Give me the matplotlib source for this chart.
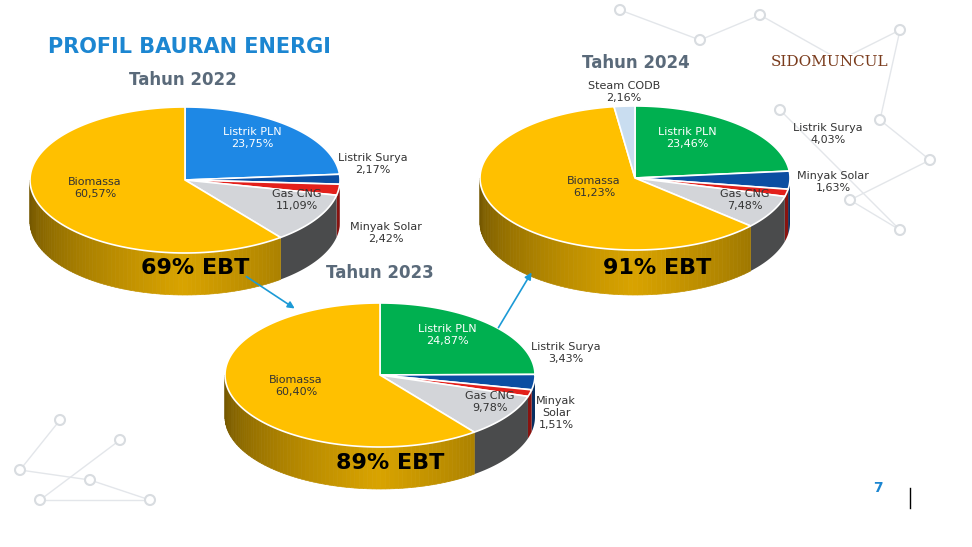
import numpy as np
import matplotlib.pyplot as plt
from matplotlib.patches import Polygon
from matplotlib.colors import to_rgb

# data
labels_2022 = ['Listrik PLN', 'Listrik Surya', 'Minyak Solar', 'Gas CNG', 'Biomassa']
values_2022 = [23.75, 2.17, 2.42, 11.09, 60.57]
labels_2023 = ['Listrik PLN', 'Listrik Surya', 'Minyak Solar', 'Gas CNG', 'Biomassa']
values_2023 = [24.87, 3.43, 1.51, 9.78, 60.40]
labels_2024 = ['Listrik PLN', 'Listrik Surya', 'Minyak Solar', 'Gas CNG', 'Biomassa', 'Steam CODB']
values_2024 = [23.46, 4.03, 1.63, 7.48, 61.23, 2.16]
ebt = ['69% EBT', '89% EBT', '91% EBT']

colors = {'Listrik Surya': '#0B4EA2', 'Minyak Solar': '#E3201B',
          'Gas CNG': '#D3D5D9', 'Biomassa': '#FFC000', 'Steam CODB': '#C9DDF0'}


def darker(c, f):
    return tuple(v * f for v in to_rgb(c))


def pie3d(ax, cx, cy, rx, ry, d, labels, values, pln_color):
    fr = np.array(values) / sum(values)
    ends = 90 - 360 * np.cumsum(fr)
    starts = np.concatenate([[90], ends[:-1]])
    cols = [pln_color if l == 'Listrik PLN' else colors[l] for l in labels]
    # sides (front half only)
    for s, e, c, l in zip(starts, ends, cols, labels):
        for off in (0, -360):
            a, b = s + off, e + off
            lo, hi = max(b, -180), min(a, 0)
            if hi <= lo:
                continue
            t = np.radians(np.linspace(hi, lo, 80))
            x = cx + rx * np.cos(t)
            y = cy - ry * np.sin(t)
            if l == 'Biomassa':
                n = len(t) - 1
                for i in range(n):
                    k = 0.45 + 0.4 * (1 - abs((x[i] - cx) / rx)) ** 0.6
                    ax.add_patch(Polygon([(x[i], y[i]), (x[i + 1], y[i + 1]),
                                          (x[i + 1], y[i + 1] + d), (x[i], y[i] + d)],
                                         closed=True, fc=darker(c, k), ec=darker(c, k), lw=0.5))
            else:
                f = 0.35 if l == 'Gas CNG' else 0.6
                pts = list(zip(x, y)) + list(zip(x[::-1], y[::-1] + d))
                ax.add_patch(Polygon(pts, closed=True, fc=darker(c, f), ec='none'))
    # top
    for s, e, c in zip(starts, ends, cols):
        t = np.radians(np.linspace(s, e, 120))
        pts = [(cx, cy)] + list(zip(cx + rx * np.cos(t), cy - ry * np.sin(t)))
        ax.add_patch(Polygon(pts, closed=True, fc=c, ec='white', lw=1.2))


fig = plt.figure(figsize=(9.72, 5.47), dpi=100)
ax = fig.add_axes([0, 0, 1, 1])
ax.set_xlim(0, 972)
ax.set_ylim(547, 0)
ax.axis('off')

# faint decorative network
net = [(620, 10), (700, 40), (760, 15), (840, 60), (900, 30), (880, 120), (930, 160), (850, 200),
       (900, 230), (780, 110), (60, 420), (20, 470), (90, 480), (150, 500), (40, 500), (120, 440)]
for i in range(len(net) - 1):
    if abs(net[i][0] - net[i + 1][0]) < 150:
        ax.plot([net[i][0], net[i + 1][0]], [net[i][1], net[i + 1][1]], color='#E3E6EA', lw=1, zorder=0)
for p in net:
    ax.add_patch(plt.Circle(p, 5, fc='white', ec='#D8DCE0', lw=1.5, zorder=0))

ax.text(48, 47, 'PROFIL BAURAN ENERGI', color='#1C86D1', fontsize=15, fontweight='bold',
        va='center', fontfamily='Liberation Sans Narrow')
ax.text(830, 62, 'SIDOMUNCUL', color='#7A3B1C', fontsize=11, fontfamily='DejaVu Serif',
        ha='center', va='center', zorder=3, bbox=dict(fc='white', ec='none', pad=1))
ax.text(878, 488, '7', color='#1C86D1', fontsize=10, fontweight='bold', ha='center', va='center')
ax.plot([910, 910], [488, 508], color='black', lw=1)

pie3d(ax, 185, 180, 155, 73, 42, labels_2022, values_2022, '#1E88E5')
pie3d(ax, 380, 375, 155, 72, 42, labels_2023, values_2023, '#00B050')
pie3d(ax, 635, 178, 155, 72, 45, labels_2024, values_2024, '#00B050')

hd = dict(color='#5A6A7A', fontsize=12, fontweight='bold', ha='center', va='center')
ax.text(183, 80, 'Tahun 2022', **hd)
ax.text(380, 273, 'Tahun 2023', **hd)
ax.text(636, 63, 'Tahun 2024', **hd)

ebt_pos = [(195, 268), (390, 463), (657, 268)]
for txt, (x, y) in zip(ebt, ebt_pos):
    ax.text(x, y, txt, fontsize=16, fontweight='bold', ha='center', va='center', color='black')

w = dict(color='white', fontsize=8, ha='center', va='center')
g = dict(color='#333333', fontsize=8, ha='center', va='center')
d = dict(color='#333333', fontsize=8, ha='center', va='center')
fmt = lambda v: f'{v:.2f}'.replace('.', ',') + '%'

# 2022 labels
ax.text(252, 138, f'Listrik PLN\n{fmt(values_2022[0])}', **w)
ax.text(373, 164, f'Listrik Surya\n{fmt(values_2022[1])}', **d)
ax.text(386, 233, f'Minyak Solar\n{fmt(values_2022[2])}', **d)
ax.text(297, 200, f'Gas CNG\n{fmt(values_2022[3])}', **g)
ax.text(95, 188, f'Biomassa\n{fmt(values_2022[4])}', **g)
# 2023 labels
ax.text(447, 335, f'Listrik PLN\n{fmt(values_2023[0])}', **w)
ax.text(566, 353, f'Listrik Surya\n{fmt(values_2023[1])}', **d)
ax.text(556, 413, f'Minyak\nSolar\n{fmt(values_2023[2])}', **d)
ax.text(490, 402, f'Gas CNG\n{fmt(values_2023[3])}', **g)
ax.text(296, 386, f'Biomassa\n{fmt(values_2023[4])}', **g)
# 2024 labels
ax.text(687, 138, f'Listrik PLN\n{fmt(values_2024[0])}', **w)
ax.text(828, 134, f'Listrik Surya\n{fmt(values_2024[1])}', **d)
ax.text(833, 182, f'Minyak Solar\n{fmt(values_2024[2])}', **d)
ax.text(745, 200, f'Gas CNG\n{fmt(values_2024[3])}', **g)
ax.text(594, 187, f'Biomassa\n{fmt(values_2024[4])}', **g)
ax.text(624, 92, f'Steam CODB\n{fmt(values_2024[5])}', **d)

arr = dict(arrowstyle='-|>', color='#1C9AD6', lw=1.2, mutation_scale=10)
ax.annotate('', xy=(297, 310), xytext=(244, 275), arrowprops=arr)
ax.annotate('', xy=(533, 270), xytext=(497, 330), arrowprops=arr)

fig.savefig('out.png', dpi=100)
